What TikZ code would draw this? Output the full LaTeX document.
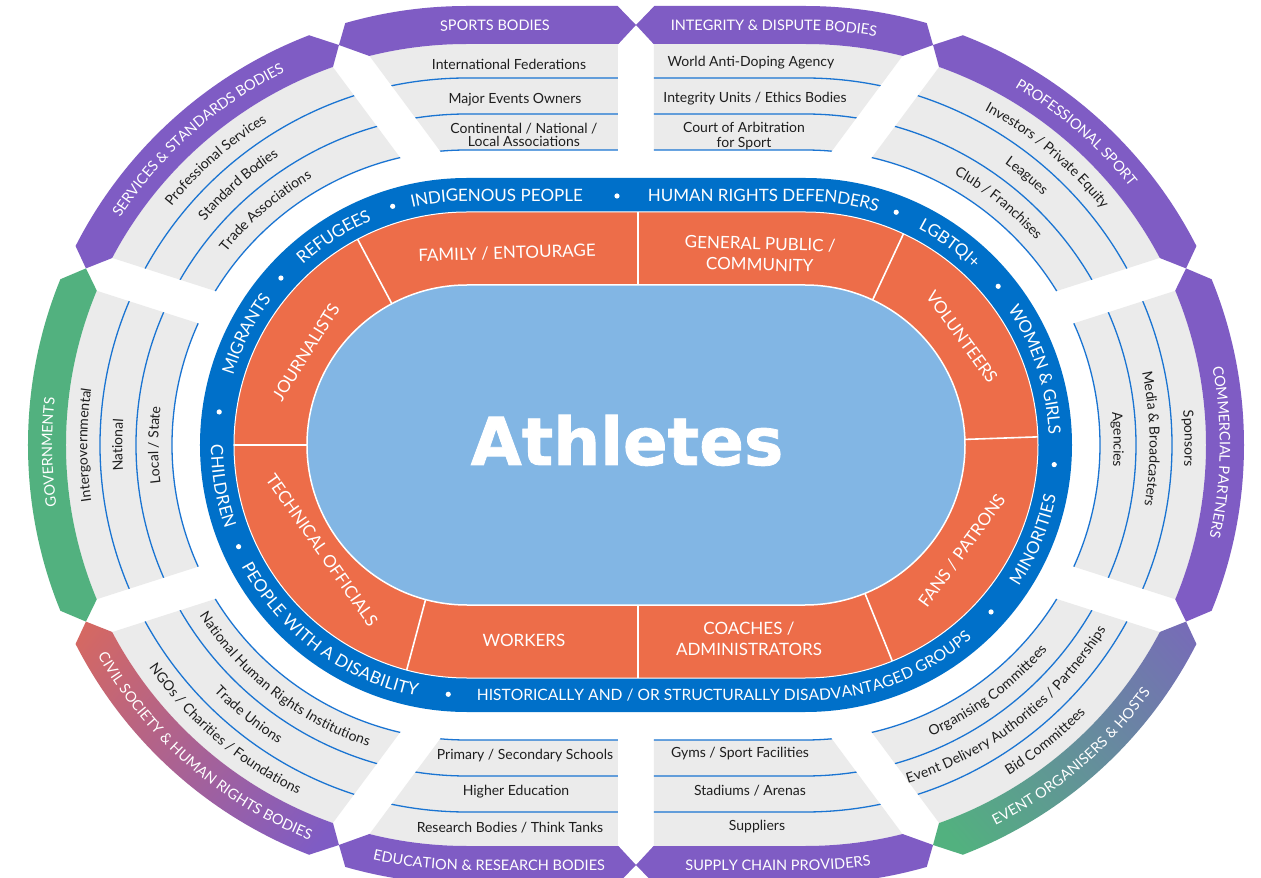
\documentclass[tikz,border=0pt]{standalone}
\usepackage{fontspec}
\setmainfont{Lato}
\newfontfamily\heavyfont{DejaVu Sans}[BoldFeatures={FakeBold=1.2}]
\usetikzlibrary{calc}
\definecolor{ringblue}{HTML}{0070C9}
\definecolor{orng}{HTML}{ED6D49}
\definecolor{lblue}{HTML}{82B6E4}
\definecolor{gry}{HTML}{EBEBEB}
\definecolor{purp}{HTML}{7F5CC4}
\definecolor{grn}{HTML}{52B17F}
\definecolor{civor}{HTML}{EA6B4A}
\definecolor{civmid}{HTML}{B4619A}
\definecolor{lineblue}{HTML}{1A74D2}
\definecolor{txtdark}{HTML}{1E1E1E}
\newcommand\itf{\fontsize{14}{16}\selectfont}
\newcommand\bandf{\fontsize{14.5}{16}\selectfont}
\newcommand\ringf{\fontsize{17}{20}\selectfont}
\newcommand\ringsm{\fontsize{15.6}{19}\selectfont}
\newcommand\orf{\fontsize{17}{21}\selectfont}
\newcommand\stad[1]{(-169,#1) -- (169,#1) arc[start angle=90,end angle=-90,radius=#1pt] -- (-169,-#1) arc[start angle=270,end angle=90,radius=#1pt] -- cycle}
\newcommand\stadccw[1]{(-169,#1) arc[start angle=90,end angle=270,radius=#1pt] -- (169,-#1) arc[start angle=-90,end angle=90,radius=#1pt] -- cycle}
\newcommand\placechar[4]{\node[inner sep=0pt,anchor=base,rotate=#3] at (#1,#2) {#4};}
\ExplSyntaxOn
\dim_new:N \l_arc_pos_dim
\dim_new:N \l_arc_tot_dim
\dim_new:N \l_arc_w_dim
\box_new:N \l_arc_box
\fp_new:N \l_arc_sc_fp
\fp_new:N \l_arc_s_fp
\fp_new:N \l_arc_a_fp
\fp_new:N \l_arc_cx_fp
\fp_new:N \l_arc_rho_fp
\tl_new:N \g_arc_nodes_tl
\cs_new_protected:Npn \arc_measure:nn #1#2
 {
  \str_if_eq:nnTF {#2} { ~ }
   {
    \hbox_set:Nn \l_arc_box { #1 a ~ b }
    \dim_set:Nn \l_arc_w_dim { \box_wd:N \l_arc_box }
    \hbox_set:Nn \l_arc_box { #1 ab }
    \dim_sub:Nn \l_arc_w_dim { \box_wd:N \l_arc_box }
   }
   {
    \hbox_set:Nn \l_arc_box { #1 #2 }
    \dim_set:Nn \l_arc_w_dim { \box_wd:N \l_arc_box }
   }
 }
% #1 format, #2 dir (1 top/cw, -1 bottom/ccw), #3 centre (-1 left, 0 straight, 1 right),
% #4 angle (or x for straight), #5 radius, #6 half cap height, #7 text
\NewDocumentCommand \stadtext { m m m m m m m }
 {
  \fp_set:Nn \l_arc_sc_fp
   {
    ( #3 == 0 ) ? ( #4 ) :
    ( ( #3 > 0 ) ?
      ( 169 + ( #5 ) * ( ( #2 > 0 ) ? ( 90 - ( #4 ) ) : ( 90 + ( #4 ) ) ) / 57.2957795 ) :
      ( -169 - ( #5 ) * ( ( #2 > 0 ) ? ( ( #4 ) - 90 ) : ( 270 - ( #4 ) ) ) / 57.2957795 ) )
   }
  \fp_set:Nn \l_arc_rho_fp { ( #5 ) - ( #2 ) * ( #6 ) }
  \dim_zero:N \l_arc_tot_dim
  \str_map_inline:nn { #7 }
   {
    \arc_measure:nn { #1 } { ##1 }
    \dim_add:Nn \l_arc_tot_dim { \l_arc_w_dim }
   }
  \dim_set:Nn \l_arc_pos_dim { -0.5 \l_arc_tot_dim }
  \str_map_inline:nn { #7 }
   {
    \arc_measure:nn { #1 } { ##1 }
    \str_if_eq:nnF { ##1 } { ~ }
     {
      \fp_set:Nn \l_arc_s_fp { \l_arc_sc_fp + \dim_to_fp:n { \l_arc_pos_dim + 0.5 \l_arc_w_dim } }
      \fp_set:Nn \l_arc_cx_fp { ( \l_arc_s_fp > 169 ) ? 169 : ( ( \l_arc_s_fp < -169 ) ? -169 : \l_arc_s_fp ) }
      \fp_set:Nn \l_arc_a_fp
       {
        ( #2 ) * ( ( \l_arc_s_fp > 169 ) ? ( 90 - ( \l_arc_s_fp - 169 ) / ( #5 ) * 57.2957795 ) :
          ( ( \l_arc_s_fp < -169 ) ? ( 90 + ( -169 - \l_arc_s_fp ) / ( #5 ) * 57.2957795 ) : 90 ) )
       }
      \tl_gput_right:Nx \g_arc_nodes_tl
       {
        \exp_not:N \placechar
         { \fp_eval:n { round ( \l_arc_cx_fp + \l_arc_rho_fp * cosd ( \l_arc_a_fp ) , 3 ) } }
         { \fp_eval:n { round ( \l_arc_rho_fp * sind ( \l_arc_a_fp ) , 3 ) } }
         { \fp_eval:n { round ( \l_arc_a_fp - ( #2 ) * 90 , 3 ) } }
         { \exp_not:n { #1 ##1 } }
       }
     }
    \dim_add:Nn \l_arc_pos_dim { \l_arc_w_dim }
   }
 }
\NewDocumentCommand \arcnodes { } { \tl_use:N \g_arc_nodes_tl }
\ExplSyntaxOff
\newcommand\gpt[4]{%
  \pgfmathsetmacro\gpC{cos(#2)}%
  \pgfmathsetmacro\gpS{sin(#2)}%
  \pgfmathsetmacro\gpSg{ifthenelse((\gpC)>0.01,1,ifthenelse((\gpC)<-0.01,-1,0))}%
  \pgfmathsetmacro\gpA{(0-(#3)*(\gpS)-(\gpSg)*169)/100}%
  \pgfmathsetmacro\gpB{(#3)*(\gpC)/100}%
  \pgfmathsetmacro\gpP{(\gpA)*(\gpC)+(\gpB)*(\gpS)}%
  \pgfmathsetmacro\gpT{0-(\gpP)+sqrt((\gpP)*(\gpP)-((\gpA)*(\gpA)+(\gpB)*(\gpB)-(#4/100)*(#4/100)))}%
  \coordinate (#1) at ({100*(\gpT)*(\gpC)-(#3)*(\gpS)},{100*(\gpT)*(\gpS)+(#3)*(\gpC)});%
}
\newcommand\sect[5]{%
  \begin{scope}
    \clip ($(0,0)+(#2+90:18)$) -- ($(#2:1000)+(#2+90:18)$) -- ({(#2+#4)/2}:1100) -- ($(#4:1000)+(#4-90:18)$) -- ($(0,0)+(#4-90:18)$) -- cycle;
    \fill[gry] \stad{401} \stadccw{295};
    \draw[lineblue,line width=1.3pt] \stad{295} \stad{331} \stad{367};
  \end{scope}
  \begin{scope}
    \clip (T#1) -- ($(T#1)!3!(Kop#1)$) -- (#2:1000) -- ({(#2+#4)/2}:1100) -- (#4:1000) -- ($(T#3)!3!(Kom#3)$) -- (T#3) -- ($(T#3)!3!(Kim#3)$) -- ($(T#1)!3!(Kip#1)$) -- cycle;
    \clip \stad{439} \stadccw{401};
    #5
  \end{scope}
}
\tikzset{
  itemtxt/.style={text=txtdark,font=\itf,align=center,inner sep=0pt},
  orangetxt/.style={text=white,font=\orf,align=center,inner sep=0pt},
  divider/.style={white,line width=1.6pt},
  wdot/.style={white}
}
\newcommand\RT[4]{\stadtext{\ringf\color{white}}{#1}{#2}{#3}{250}{6.1}{#4}}
\newcommand\BT[4]{\stadtext{\bandf\color{white}}{#1}{#2}{#3}{420}{5.2}{#4}}
\newcommand\IT[5]{\stadtext{\itf\color{txtdark}}{#1}{#2}{#3}{#4}{4.3}{#5}}
\begin{document}
% blue ring labels
\RT{1}{-1}{153.3}{MIGRANTS}
\RT{1}{-1}{122.6}{REFUGEES}
\RT{1}{0}{-139.4}{INDIGENOUS PEOPLE}
\RT{1}{0}{128}{HUMAN RIGHTS DEFENDERS}
\RT{1}{1}{54.3}{LGBTQI+}
\RT{1}{1}{18.1}{WOMEN & GIRLS}
\RT{-1}{1}{-22.4}{MINORITIES}
\stadtext{\ringsm\color{white}}{-1}{0}{94}{250}{5.6}{HISTORICALLY AND / OR STRUCTURALLY DISADVANTAGED GROUPS}
\RT{-1}{-1}{233.5}{PEOPLE WITH A DISABILITY}
\RT{-1}{-1}{189.6}{CHILDREN}
% band labels
\BT{1}{0}{-141}{SPORTS BODIES}
\BT{1}{0}{138}{INTEGRITY & DISPUTE BODIES}
\BT{1}{1}{49}{PROFESSIONAL SPORT}
\BT{1}{1}{-1}{COMMERCIAL PARTNERS}
\BT{-1}{1}{-49.5}{EVENT ORGANISERS & HOSTS}
\BT{-1}{0}{142}{SUPPLY CHAIN PROVIDERS}
\BT{-1}{0}{-147}{EDUCATION & RESEARCH BODIES}
\BT{-1}{-1}{229}{CIVIL SOCIETY & HUMAN RIGHTS BODIES}
\BT{1}{-1}{181}{GOVERNMENTS}
\BT{1}{-1}{131.4}{SERVICES & STANDARDS BODIES}
% curved items
\IT{1}{-1}{131.4}{384}{Professional Services}
\IT{1}{-1}{131.3}{349}{Standard Bodies}
\IT{1}{-1}{130.7}{313}{Trade Associations}
\IT{1}{-1}{180}{384}{Intergovernmental}
\IT{1}{-1}{180}{349}{National}
\IT{1}{-1}{180}{313}{Local / State}
\IT{-1}{-1}{229.6}{384}{NGOs / Charities / Foundations}
\IT{-1}{-1}{231}{349}{Trade Unions}
\IT{-1}{-1}{232.2}{313}{National Human Rights Institutions}
\IT{-1}{1}{-51}{384}{Bid Committees}
\IT{-1}{1}{-52.3}{349}{Event Delivery Authorities / Partnerships}
\IT{-1}{1}{-53.4}{313}{Organising Committees}
\IT{1}{1}{1}{384}{Sponsors}
\IT{1}{1}{1}{349}{Media & Broadcasters}
\IT{1}{1}{1}{313}{Agencies}
\IT{1}{1}{50.1}{384}{Investors / Private Equity}
\IT{1}{1}{50.5}{349}{Leagues}
\IT{1}{1}{51.3}{313}{Club / Franchises}
\begin{tikzpicture}[x=1pt,y=1pt]
\useasboundingbox (-636,-433) rectangle (625,445);
\fill[white] (-636,-433) rectangle (625,445);
\foreach \gi/\gang in {1/90,2/126.6,3/162.2,4/197.8,5/233.4,6/270,7/306.6,8/342.2,9/17.8,10/53.4}{
  \gpt{T\gi}{\gang}{0}{420}
  \gpt{Kop\gi}{\gang}{18}{439}
  \gpt{Kip\gi}{\gang}{18}{401}
  \gpt{Kom\gi}{\gang}{-18}{439}
  \gpt{Kim\gi}{\gang}{-18}{401}
}
% outer sectors
\sect{10}{53.4}{1}{90}{\fill[purp] (-700,-500) rectangle (700,500);}
\sect{1}{90}{2}{126.6}{\fill[purp] (-700,-500) rectangle (700,500);}
\sect{2}{126.6}{3}{162.2}{\fill[purp] (-700,-500) rectangle (700,500);}
\sect{3}{162.2}{4}{197.8}{\fill[grn] (-700,-500) rectangle (700,500);}
\sect{4}{197.8}{5}{233.4}{\shade[top color=civor,middle color=civmid,bottom color=purp,shading angle=52] (-640,-40) rectangle (-250,-440);}
\sect{5}{233.4}{6}{270}{\fill[purp] (-700,-500) rectangle (700,500);}
\sect{6}{270}{7}{306.6}{\fill[purp] (-700,-500) rectangle (700,500);}
\sect{7}{306.6}{8}{342.2}{\shade[top color=purp,bottom color=grn,shading angle=-49] (250,-440) rectangle (630,-40);}
\sect{8}{342.2}{9}{377.8}{\fill[purp] (-700,-500) rectangle (700,500);}
\sect{9}{17.8}{10}{53.4}{\fill[purp] (-700,-500) rectangle (700,500);}
% central rings
\fill[ringblue] \stad{267};
\fill[orng] \stad{233};
\draw[white,line width=1pt] \stad{233};
\fill[lblue] \stad{160};
\draw[white,line width=1.5pt] \stad{160};
\draw[divider] ($(-169,0)+(180:160)$) -- ($(-169,0)+(180:233)$);
\draw[divider] ($(169,0)+(2:160)$) -- ($(169,0)+(2:233)$);
\draw[divider] (2,160) -- (2,233);
\draw[divider] (2,-160) -- (2,-233);
\draw[divider] ($(-169,0)+(118:160)$) -- ($(-169,0)+(118:233)$);
\draw[divider] ($(169,0)+(65:160)$) -- ($(169,0)+(65:233)$);
\draw[divider] ($(-169,0)+(255:160)$) -- ($(-169,0)+(255:233)$);
\draw[divider] ($(169,0)+(292:160)$) -- ($(169,0)+(292:233)$);
% dots on blue ring
\foreach \da in {172.4,138.1,107.3,204,265.7}{\fill[wdot] ($(-169,0)+(\da:250)$) circle[radius=2.6pt];}
\foreach \da in {68.6,39.4,-4.5,-41.9}{\fill[wdot] ($(169,0)+(\da:250)$) circle[radius=2.6pt];}
\fill[wdot] (-19,249) circle[radius=2.6pt];
% Athletes
\node[text=white,inner sep=0pt,anchor=base] at (-9,-20) {\heavyfont\bfseries\fontsize{66}{70}\selectfont Athletes};
% orange ring labels
\node[orangetxt,rotate=1.7] at (-129,192) {FAMILY / ENTOURAGE};
\node[orangetxt,rotate=-1.5] at (124,191) {GENERAL PUBLIC /\\COMMUNITY};
\node[orangetxt,rotate=58] at (-330,93) {JOURNALISTS};
\node[orangetxt,rotate=-55] at (-314,-105) {TECHNICAL OFFICIALS};
\node[orangetxt] at (-112,-195) {WORKERS};
\node[orangetxt] at (113,-194) {COACHES /\\ADMINISTRATORS};
\node[orangetxt,rotate=-54] at (326,108) {VOLUNTEERS};
\node[orangetxt,rotate=54] at (326,-106) {FANS / PATRONS};
% items: top and bottom
\node[itemtxt] at (-127,381) {International Federations};
\node[itemtxt] at (-121,345) {Major Events Owners};
\node[itemtxt,font=\fontsize{14}{13.5}\selectfont] at (-112,310) {Continental / National /\\Local Associations};
\node[itemtxt] at (115,382) {World Anti-Doping Agency};
\node[itemtxt] at (119,346) {Integrity Units / Ethics Bodies};
\node[itemtxt,font=\fontsize{14}{15.5}\selectfont] at (108,309) {Court of Arbitration\\for Sport};
\node[itemtxt] at (-111,-311) {Primary / Secondary Schools};
\node[itemtxt] at (-120,-347) {Higher Education};
\node[itemtxt] at (-126,-383) {Research Bodies / Think Tanks};
\node[itemtxt] at (104,-309) {Gyms / Sport Facilities};
\node[itemtxt] at (114,-346) {Stadiums / Arenas};
\node[itemtxt] at (121,-382) {Suppliers};
% curved texts, one glyph per node
\arcnodes
\end{tikzpicture}
\end{document}
